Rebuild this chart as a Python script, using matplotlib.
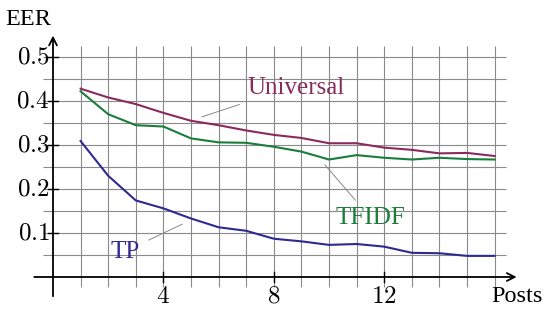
import matplotlib.pyplot as plt
import numpy as np

plt.rcParams['font.family'] = ['Liberation Serif', 'DejaVu Serif']
plt.rcParams['mathtext.fontset'] = 'cm'

posts = np.arange(1, 17)
universal = [0.428, 0.408, 0.393, 0.373, 0.355, 0.345, 0.333, 0.323,
             0.316, 0.304, 0.304, 0.294, 0.289, 0.281, 0.282, 0.275]
tfidf = [0.422, 0.370, 0.345, 0.342, 0.315, 0.306, 0.305, 0.296,
         0.285, 0.267, 0.277, 0.271, 0.267, 0.271, 0.268, 0.267]
tp = [0.309, 0.230, 0.174, 0.156, 0.133, 0.113, 0.105, 0.087,
      0.081, 0.073, 0.075, 0.069, 0.055, 0.054, 0.048, 0.048]

xticks = [4, 8, 12]
yticks = [0.1, 0.2, 0.3, 0.4, 0.5]

c_univ = '#8b2a5c'
c_tfidf = '#1b7d3a'
c_tp = '#2d2a91'

fig = plt.figure(figsize=(5.52, 3.09), dpi=100)
ax = fig.add_axes([0, 0, 1, 1])
# pixel mapping: x = 53 + 27.6 * value, y = 277 - 440 * value
ax.set_xlim(-53 / 27.6, (552 - 53) / 27.6)
ax.set_ylim((277 - 309) / 440, 277 / 440)
ax.axis('off')

# grid
ax.vlines(posts, -0.023, 0.525, color='#8a8a8a', lw=0.8, zorder=1)
ax.hlines(np.arange(0.05, 0.501, 0.05), -0.35, 16.4, color='#8a8a8a', lw=0.8, zorder=1)

# axes with arrows
ax.annotate('', xy=(16.9, 0), xytext=(-0.78, 0),
            arrowprops=dict(arrowstyle='->', lw=1.3, color='black', mutation_scale=14))
ax.annotate('', xy=(0, 0.555), xytext=(0, -0.05),
            arrowprops=dict(arrowstyle='->', lw=1.3, color='black', mutation_scale=14))

for t in xticks:
    ax.plot([t, t], [-0.011, 0.011], color='black', lw=1.0)
    ax.text(t, -0.02, f'${t}$', ha='center', va='top', fontsize=18)
for t in yticks:
    ax.plot([-0.18, 0.18], [t, t], color='black', lw=1.0)
    ax.text(-0.12, t, f'${t:.1f}$', ha='right', va='center', fontsize=18)

ax.text(-0.9, 0.585, 'EER', ha='center', va='center', fontsize=17.5)
ax.text(16.82, -0.045, 'Posts', ha='center', va='center', fontsize=17.5)

# series
ax.plot(posts, universal, color=c_univ, lw=1.5, zorder=3)
ax.plot(posts, tfidf, color=c_tfidf, lw=1.5, zorder=3)
ax.plot(posts, tp, color=c_tp, lw=1.5, zorder=3)

# labels with pins
ax.plot([5.4, 6.75], [0.364, 0.392], color='#888888', lw=0.7, zorder=2)
ax.text(8.8, 0.43, 'Universal', color=c_univ, ha='center', va='center', fontsize=18)
ax.plot([9.85, 10.95], [0.255, 0.175], color='#888888', lw=0.7, zorder=2)
ax.text(11.5, 0.133, 'TFIDF', color=c_tfidf, ha='center', va='center', fontsize=18)
ax.plot([3.47, 4.68], [0.084, 0.12], color='#888888', lw=0.7, zorder=2)
ax.text(2.6, 0.057, 'TP', color=c_tp, ha='center', va='center', fontsize=18)

fig.savefig('out.png', dpi=100)
